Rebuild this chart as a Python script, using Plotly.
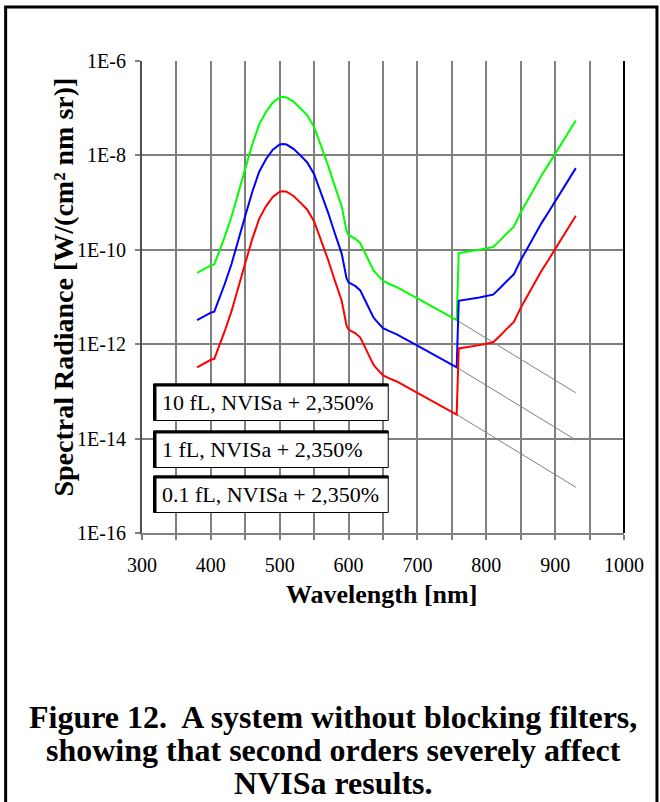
import plotly.graph_objects as go

# ---------------- data ----------------
wavelength = [380, 390, 400, 405, 410, 420, 430, 440, 450, 460, 467, 470, 480, 490,
              500, 505, 510, 520, 530, 540, 550, 560, 570, 580, 590, 597, 600, 610,
              617, 625, 636, 640, 650, 660, 670, 700, 730, 757, 760, 770, 780, 790,
              800, 810, 820, 825, 830, 840, 850, 860, 870, 880, 890, 900, 910, 920, 930]

log_10fL = [-10.49, -10.41, -10.33, -10.31, -10.13, -9.73, -9.30, -8.76, -8.28, -7.78,
            -7.46, -7.35, -7.08, -6.88, -6.77, -6.76, -6.77, -6.86, -7.00, -7.15,
            -7.40, -7.80, -8.20, -8.65, -9.08, -9.60, -9.69, -9.77, -9.86, -10.10,
            -10.43, -10.50, -10.66, -10.73, -10.79, -11.03, -11.27, -11.49, -10.07,
            -10.05, -10.02, -10.00, -9.97, -9.94, -9.80, -9.72, -9.65, -9.51, -9.21,
            -8.95, -8.68, -8.43, -8.20, -7.96, -7.72, -7.48, -7.26]

log_1fL = [-11.49, -11.41, -11.33, -11.31, -11.13, -10.73, -10.30, -9.76, -9.28, -8.78,
           -8.46, -8.35, -8.08, -7.88, -7.77, -7.76, -7.77, -7.86, -8.00, -8.15,
           -8.40, -8.80, -9.20, -9.65, -10.08, -10.60, -10.69, -10.77, -10.86, -11.10,
           -11.43, -11.50, -11.66, -11.73, -11.79, -12.03, -12.27, -12.49, -11.08,
           -11.06, -11.03, -11.01, -10.98, -10.95, -10.81, -10.73, -10.66, -10.52, -10.22,
           -9.96, -9.69, -9.44, -9.21, -8.97, -8.73, -8.49, -8.27]

log_01fL = [-12.49, -12.41, -12.33, -12.31, -12.13, -11.73, -11.30, -10.76, -10.28, -9.78,
            -9.46, -9.35, -9.08, -8.88, -8.77, -8.76, -8.77, -8.86, -9.00, -9.15,
            -9.40, -9.80, -10.20, -10.65, -11.08, -11.60, -11.69, -11.77, -11.86, -12.10,
            -12.43, -12.50, -12.66, -12.73, -12.79, -13.03, -13.27, -13.49, -12.09,
            -12.07, -12.04, -12.02, -11.99, -11.96, -11.82, -11.74, -11.67, -11.53, -11.23,
            -10.97, -10.70, -10.45, -10.22, -9.98, -9.74, -9.50, -9.28]

# first-order extrapolation lines (gray)
ext_wavelength = [757, 930]
ext_10fL = [-11.49, -13.03]
ext_1fL = [-12.49, -14.03]
ext_01fL = [-13.49, -15.03]

series_names = ["10 fL, NVISa + 2,350%", "1 fL, NVISa + 2,350%", "0.1 fL, NVISa + 2,350%"]
series_colors = ["#00FF00", "#0000FF", "#FF0000"]

x_ticks = [300, 350, 400, 450, 500, 550, 600, 650, 700, 750, 800, 850, 900, 950, 1000]
x_ticktext = ["300", "", "400", "", "500", "", "600", "", "700", "", "800", "", "900", "", "1000"]
y_ticks = [1e-16, 1e-14, 1e-12, 1e-10, 1e-8, 1e-6]
y_ticktext = ["1E-16", "1E-14", "1E-12", "1E-10", "1E-8", "1E-6"]

caption_lines = ["Figure 12.\u00a0 A system without blocking filters,",
                 "showing that second orders severely affect",
                 "NVISa results."]

# ---------------- layout helpers ----------------
W, H = 660, 802
PL, PR, PT, PB = 141.5, 624.0, 61.0, 533.0  # plot area in screen px


def px(sx):
    return (sx - PL) / (PR - PL)


def py(sy):
    return (PB - sy) / (PB - PT)


FONT = "Liberation Serif, Times New Roman, serif"

fig = go.Figure()

for lv in (ext_10fL, ext_1fL, ext_01fL):
    fig.add_trace(go.Scatter(x=ext_wavelength, y=[10 ** v for v in lv], mode="lines",
                             line=dict(color="#808080", width=1), showlegend=False,
                             hoverinfo="skip"))

for name, color, lv in zip(series_names, series_colors, (log_10fL, log_1fL, log_01fL)):
    fig.add_trace(go.Scatter(x=wavelength, y=[10 ** v for v in lv], mode="lines",
                             name=name, line=dict(color=color, width=2), showlegend=False))

shapes = []
# outer frame
shapes.append(dict(type="rect", xref="paper", yref="paper",
                   x0=px(5), x1=px(657), y0=py(812), y1=py(7),
                   line=dict(color="black", width=3)))
# right border of plot area
shapes.append(dict(type="line", xref="paper", yref="paper", x0=1, x1=1, y0=0, y1=1,
                   line=dict(color="black", width=2)))

# legend boxes
box_tops = [384, 431, 476]
box_h = 36.5
for top, name in zip(box_tops, series_names):
    shapes.append(dict(type="rect", xref="paper", yref="paper",
                       x0=px(153), x1=px(388), y0=py(top + box_h), y1=py(top),
                       fillcolor="white", line=dict(color="black", width=1)))
    shapes.append(dict(type="line", xref="paper", yref="paper",
                       x0=px(153), x1=px(388), y0=py(top + 1), y1=py(top + 1),
                       line=dict(color="black", width=3)))
    shapes.append(dict(type="line", xref="paper", yref="paper",
                       x0=px(154.5), x1=px(154.5), y0=py(top + box_h), y1=py(top),
                       line=dict(color="black", width=3)))

annotations = []
for top, name in zip(box_tops, series_names):
    annotations.append(dict(text=name, xref="paper", yref="paper", x=px(160), y=py(top + box_h / 2),
                            xanchor="left", yanchor="middle", showarrow=False,
                            font=dict(family=FONT, size=22, color="black")))

annotations.append(dict(text="<b>Wavelength [nm]</b>", xref="paper", yref="paper",
                        x=px(381), y=py(594), xanchor="center", yanchor="middle",
                        showarrow=False, font=dict(family=FONT, size=26, color="black")))
annotations.append(dict(text="<b>Spectral Radiance [W/(cm² nm sr)]</b>", xref="paper", yref="paper",
                        x=px(62), y=py(287), xanchor="center", yanchor="middle", textangle=-90,
                        showarrow=False, font=dict(family=FONT, size=28, color="black")))
for i, (line, yy) in enumerate(zip(caption_lines, [717, 750, 783])):
    annotations.append(dict(text="<b>" + line + "</b>", xref="paper", yref="paper",
                            x=px(333), y=py(yy), xanchor="center", yanchor="middle",
                            showarrow=False, font=dict(family=FONT, size=32, color="black")))

fig.update_layout(
    width=W, height=H,
    margin=dict(l=PL, r=W - PR, t=PT, b=H - PB, pad=0),
    paper_bgcolor="white", plot_bgcolor="white",
    shapes=shapes, annotations=annotations,
    font=dict(family=FONT, size=20, color="black"),
    xaxis=dict(range=[300, 1000], tickvals=x_ticks, ticktext=x_ticktext,
               showgrid=True, gridcolor="#808080", gridwidth=1.5,
               showline=True, linecolor="#808080", linewidth=2,
               ticks="outside", ticklen=5, tickcolor="#808080", tickwidth=1.5,
               ticklabelstandoff=8,
               zeroline=False, tickfont=dict(family=FONT, size=20)),
    yaxis=dict(type="log", range=[-16, -6], tickvals=y_ticks, ticktext=y_ticktext,
               showgrid=True, gridcolor="#808080", gridwidth=1.5,
               showline=True, linecolor="#505050", linewidth=2,
               ticks="outside", ticklen=5, tickcolor="#808080", tickwidth=1.5,
               ticklabelstandoff=5,
               zeroline=False, tickfont=dict(family=FONT, size=20)),
)

fig.write_html("out.html", config={"displayModeBar": False},
               post_script="document.body.style.margin='0';")
